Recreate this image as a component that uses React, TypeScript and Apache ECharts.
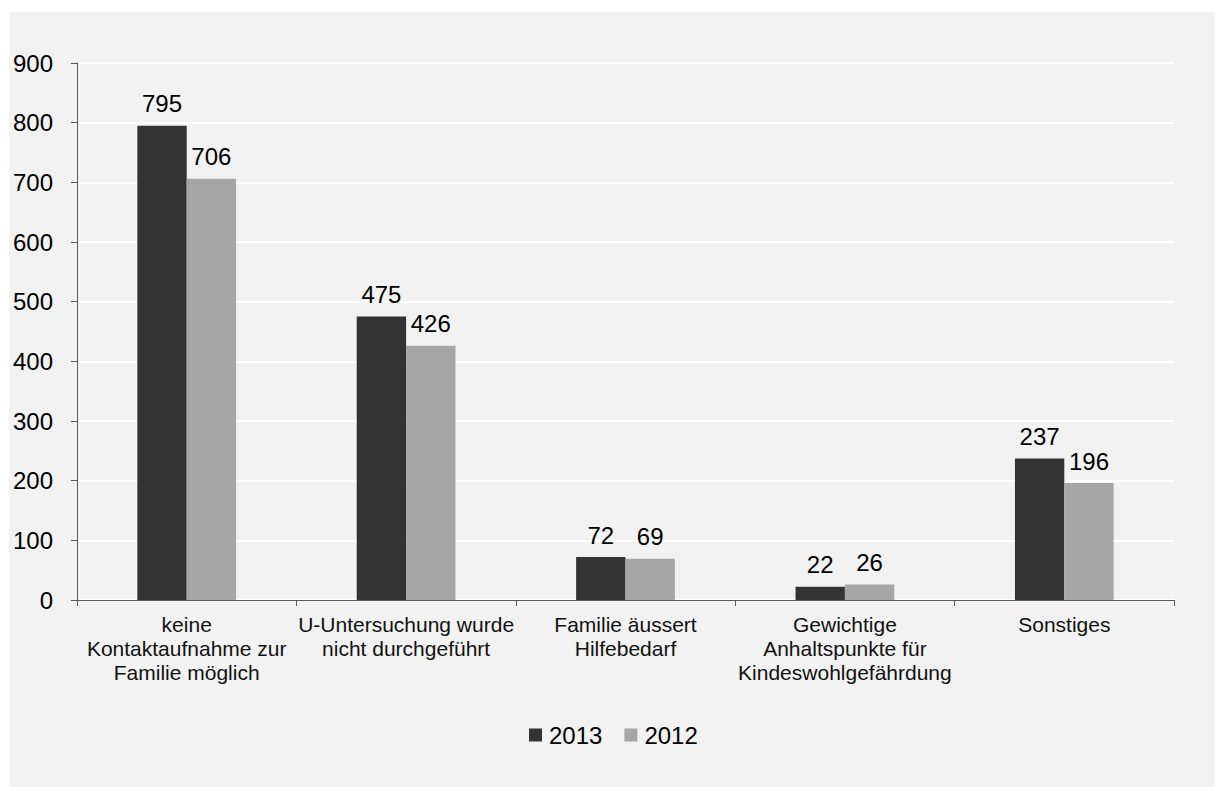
import React, { useEffect, useRef } from "react";
import * as echarts from "echarts";

const categories = [
  "keine\nKontaktaufnahme zur\nFamilie möglich",
  "U-Untersuchung wurde\nnicht durchgeführt",
  "Familie äussert\nHilfebedarf",
  "Gewichtige\nAnhaltspunkte für\nKindeswohlgefährdung",
  "Sonstiges",
];
const values2013 = [795, 475, 72, 22, 237];
const values2012 = [706, 426, 69, 26, 196];
const seriesNames = ["2013", "2012"];
const yTicks = { min: 0, max: 900, interval: 100 };

export default function App() {
  const ref = useRef<HTMLDivElement>(null);
  useEffect(() => {
    document.body.style.margin = "0";
    const chart = echarts.init(ref.current!, undefined, { renderer: "svg" });
    const font = "Liberation Sans, Arial, sans-serif";
    const label = {
      show: true,
      position: "top" as const,
      distance: 10,
      fontSize: 24,
      color: "#000",
      fontFamily: font,
    };
    chart.setOption({
      animation: false,
      backgroundColor: "#ffffff",
      textStyle: { fontFamily: font },
      graphic: [
        {
          type: "rect",
          z: -10,
          silent: true,
          shape: { x: 9, y: 12, width: 1206, height: 775 },
          style: { fill: "#f2f2f2" },
        },
      ],
      grid: { left: 77, right: 41, top: 63, bottom: 187, containLabel: false },
      legend: {
        data: seriesNames,
        top: 718,
        left: 524,
        itemWidth: 13,
        itemHeight: 13,
        itemGap: 22,
        icon: "rect",
        textStyle: { fontSize: 24, color: "#000", fontFamily: font, padding: [0, 0, 0, 2] },
      },
      xAxis: {
        type: "category",
        data: categories,
        axisLine: { lineStyle: { color: "#595959", width: 1 } },
        axisTick: { show: true, alignWithLabel: false, interval: 0, length: 6, lineStyle: { color: "#595959" } },
        axisLabel: {
          interval: 0,
          fontSize: 21,
          color: "#111",
          lineHeight: 24,
          margin: 12,
          fontFamily: font,
        },
      },
      yAxis: {
        type: "value",
        min: yTicks.min,
        max: yTicks.max,
        interval: yTicks.interval,
        axisLine: { show: true, lineStyle: { color: "#595959", width: 1 } },
        axisTick: { show: true, length: 6, lineStyle: { color: "#595959" } },
        splitLine: { lineStyle: { color: "#ffffff", width: 2 } },
        axisLabel: { fontSize: 24, color: "#000", margin: 24, fontFamily: font },
      },
      series: [
        {
          name: seriesNames[0],
          type: "bar",
          data: values2013,
          barGap: "0%",
          barCategoryGap: "55%",
          itemStyle: { color: "#333333" },
          label,
        },
        {
          name: seriesNames[1],
          type: "bar",
          data: values2012,
          barGap: "0%",
          barCategoryGap: "55%",
          itemStyle: { color: "#a6a6a6" },
          label,
        },
      ],
    });
    return () => chart.dispose();
  }, []);
  return <div ref={ref} style={{ width: 1215, height: 787 }} />;
}
